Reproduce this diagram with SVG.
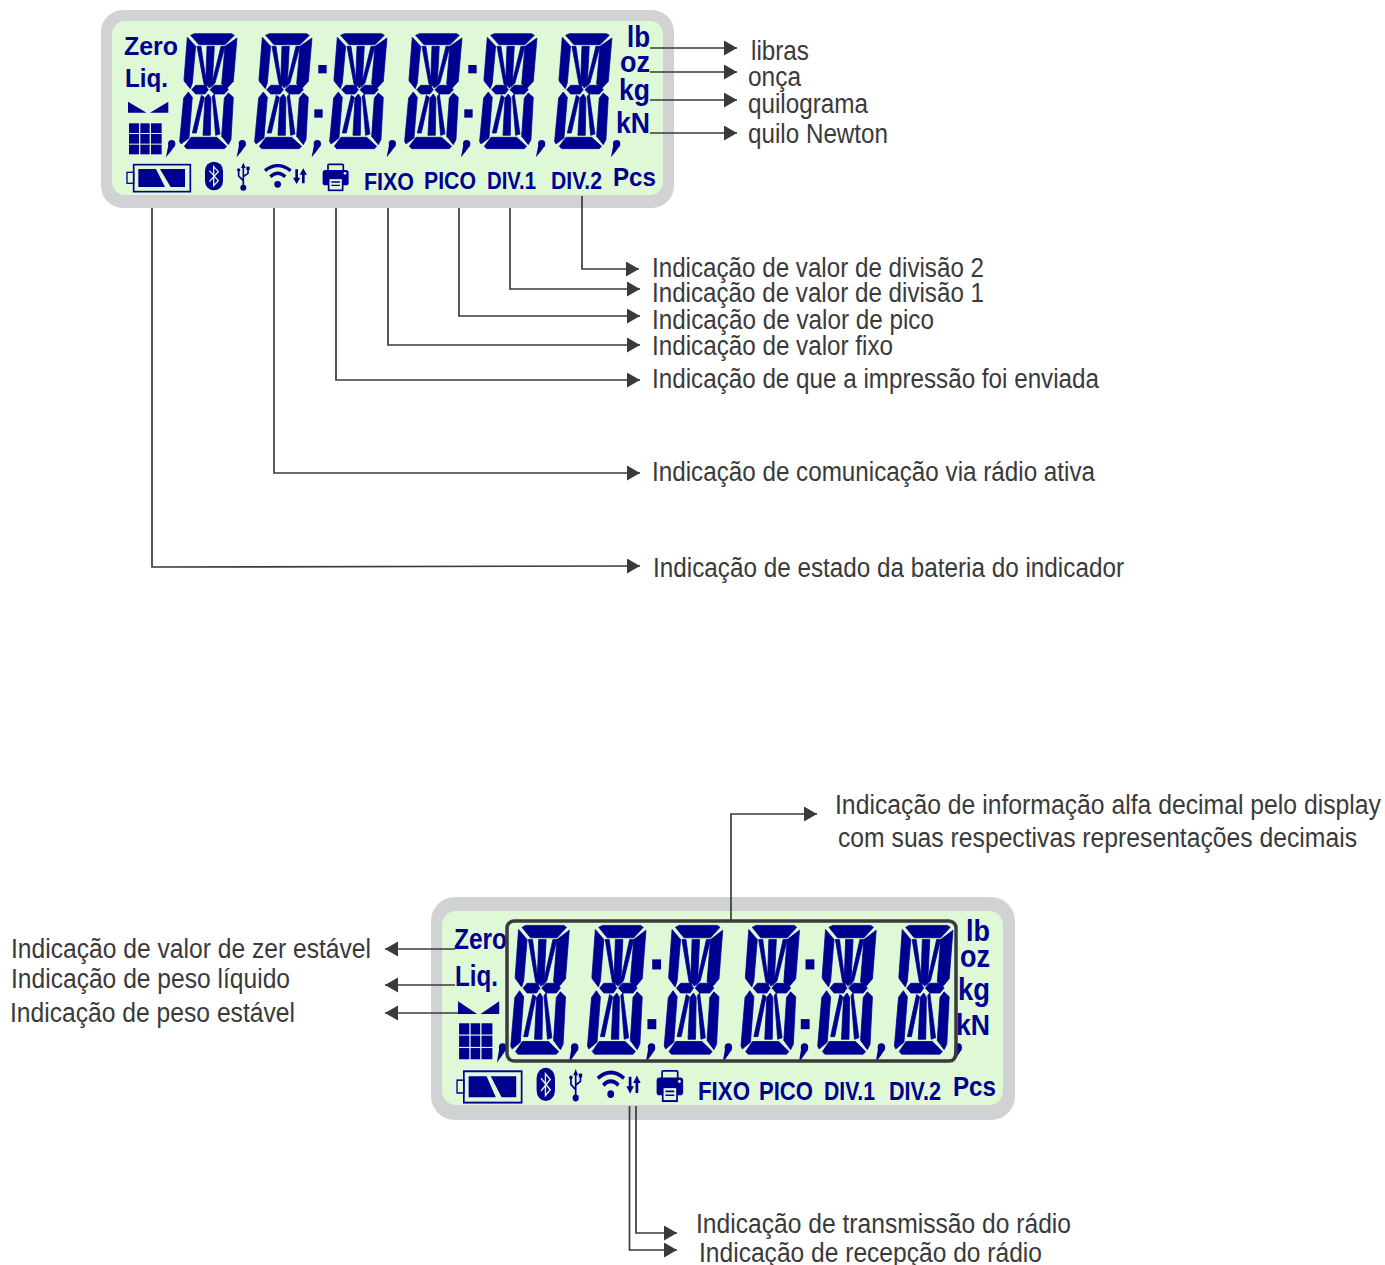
<svg xmlns="http://www.w3.org/2000/svg" xmlns:xlink="http://www.w3.org/1999/xlink" width="1385" height="1265" viewBox="0 0 1385 1265">
<style>
.bez{fill:#d1d2d4}.scr{fill:#dff8d5}
.s{fill:#000090}
.dg{fill:#000090;stroke:#000090;stroke-width:2.2;stroke-linejoin:round}
.b{font-family:"Liberation Sans",Arial,sans-serif;font-weight:700;fill:#000090;font-size:26px}
.t{font-family:"Liberation Sans",Arial,sans-serif;fill:#3a3a3a;font-size:27px}
.c{fill:none;stroke:#3a3a3a;stroke-width:1.7;marker-end:url(#ah)}
</style>
<defs>
<marker id="ah" markerUnits="userSpaceOnUse" markerWidth="14" markerHeight="16" refX="13" refY="7.5" orient="auto"><path d="M0,0L13,7.5L0,15Z" fill="#3a3a3a"/></marker>
<g id="digit" class="dg">
<polygon points="272,76 283,71 395,71 403,76 375,104 297,104"/>
<polygon points="262,82 287,109 277,219 271,236 253,214 252,209"/>
<polygon points="411,84 400,214 380,236 365,222 375,109"/>
<polygon points="275,239 287,226 315,226 325,239 315,252 287,252"/>
<polygon points="330,239 343,226 373,226 385,239 373,252 343,252"/>
<polygon points="265,246 277,262 267,384 243,402 239,394 251,264"/>
<polygon points="385,249 400,262 393,389 385,404 365,379 373,264"/>
<polygon points="253,409 273,382 350,382 380,409 373,416 260,416"/>
<polygon points="321,109 343,109 337,219 328,234 317,219"/>
<polygon points="309,376 315,264 325,252 333,264 331,376"/>
<polygon points="291,109 303,109 321,232 312,222"/>
<polygon points="363,109 375,109 345,219 333,232"/>
<polygon points="277,369 289,369 313,262 304,256"/>
<polygon points="337,259 343,252 360,372 347,376"/>
</g>
<g id="comma" class="s"><circle cx="215" cy="401" r="11"/><path d="M205,406L226,406Q212,426 198,442Z"/></g>
<g id="icons" class="s">
<rect x="101" y="464" width="170" height="81" fill="none" stroke="#000090" stroke-width="5"/>
<rect x="81" y="487" width="20" height="33" fill="none" stroke="#000090" stroke-width="4"/>
<polygon points="115,477 168,477 195,531 115,531"/>
<polygon points="180,477 255,477 255,531 212,531"/>
<rect x="315" y="455" width="54" height="86" rx="27"/>
<path d="M328,482L355,512L341,527L341,470L355,485L328,515" fill="none" stroke="#dff8d5" stroke-width="4"/>
<path d="M430,470V530M430,512L416,498V484M430,500L444,490V478" fill="none" stroke="#000090" stroke-width="5"/>
<polygon points="430,458 437,474 423,474"/><circle cx="430" cy="533" r="9"/><circle cx="416" cy="480" r="5"/><rect x="439" y="470" width="10" height="10"/>
<path d="M495,482Q533,452 572,482M511,500Q533,480 556,500" fill="none" stroke="#000090" stroke-width="10"/>
<circle cx="533" cy="523" r="10"/>
<polygon points="586,478 594,478 594,503 601,503 590,522 579,503 586,503"/>
<polygon points="606,520 614,520 614,494 621,494 610,475 599,494 606,494"/>
<rect x="684" y="463" width="46" height="22" rx="3" fill="none" stroke="#000090" stroke-width="5"/>
<rect x="668" y="480" width="78" height="46" rx="8"/>
<rect x="686" y="505" width="42" height="36" fill="#dff8d5" stroke="#000090" stroke-width="5"/>
<path d="M694,516H720M694,526H720" stroke="#000090" stroke-width="4"/>
<circle cx="735" cy="490" r="4" fill="#dff8d5"/>
</g>
<g id="stab" class="s"><polygon points="84,275 140,308 84,308"/><polygon points="205,275 150,308 205,308"/></g>
<g id="grid" class="s">
<rect x="87" y="340" width="30" height="29"/><rect x="121" y="340" width="28" height="29"/><rect x="153" y="340" width="32" height="29"/>
<rect x="87" y="372" width="30" height="29"/><rect x="121" y="372" width="28" height="29"/><rect x="153" y="372" width="32" height="29"/>
<rect x="87" y="404" width="30" height="29"/><rect x="121" y="404" width="28" height="29"/><rect x="153" y="404" width="32" height="29"/>
</g>
</defs>
<rect width="1385" height="1265" fill="#fff"/>

<g id="display-top">
<rect class="bez" x="101" y="10" width="573" height="198" rx="22"/>
<rect class="scr" x="112" y="21" width="551" height="174" rx="13"/>
<g transform="translate(100,10) scale(.3333)">
<use href="#digit"/><use href="#digit" x="225"/><use href="#digit" x="450"/><use href="#digit" x="675"/><use href="#digit" x="900"/><use href="#digit" x="1125"/>
<use href="#comma"/><use href="#comma" x="212"/><use href="#comma" x="437"/><use href="#comma" x="662"/><use href="#comma" x="885"/><use href="#comma" x="1110"/><use href="#comma" x="1335"/>
<rect class="s" x="655" y="165" width="25" height="25"/><rect class="s" x="643" y="298" width="25" height="25"/>
<rect class="s" x="1105" y="165" width="25" height="25"/><rect class="s" x="1093" y="298" width="25" height="25"/>
<use href="#icons"/><use href="#stab"/><use href="#grid"/>
</g>
<text class="b" x="124" y="55" textLength="54" lengthAdjust="spacingAndGlyphs">Zero</text>
<text class="b" x="125" y="87" textLength="43" lengthAdjust="spacingAndGlyphs">Liq.</text>
<text class="b" x="627" y="47" textLength="23" lengthAdjust="spacingAndGlyphs" style="font-size:29px">lb</text>
<text class="b" x="620" y="72" textLength="30" lengthAdjust="spacingAndGlyphs" style="font-size:30px">oz</text>
<text class="b" x="619" y="100" textLength="31" lengthAdjust="spacingAndGlyphs" style="font-size:29px">kg</text>
<text class="b" x="616" y="133" textLength="34" lengthAdjust="spacingAndGlyphs" style="font-size:29px">kN</text>
<text class="b" x="364" y="190" textLength="50" lengthAdjust="spacingAndGlyphs" style="font-size:24px">FIXO</text>
<text class="b" x="424" y="189" textLength="52" lengthAdjust="spacingAndGlyphs" style="font-size:24px">PICO</text>
<text class="b" x="487" y="189" textLength="49" lengthAdjust="spacingAndGlyphs" style="font-size:24px">DIV.1</text>
<text class="b" x="551" y="189" textLength="51" lengthAdjust="spacingAndGlyphs" style="font-size:24px">DIV.2</text>
<text class="b" x="613" y="186" textLength="43" lengthAdjust="spacingAndGlyphs">Pcs</text>
</g>

<g id="display-bottom">
<rect class="bez" x="431" y="897" width="584" height="223" rx="24"/>
<rect class="scr" x="442" y="911" width="561" height="194" rx="14"/>
<text class="b" x="454" y="949" textLength="53" lengthAdjust="spacingAndGlyphs" style="font-size:29px">Zero</text>
<text class="b" x="455" y="986" textLength="43" lengthAdjust="spacingAndGlyphs" style="font-size:29px">Liq.</text>
<g transform="translate(429.500,898.900) scale(.34,.3733)">
<use href="#digit"/><use href="#digit" x="225.700"/><use href="#digit" x="451.400"/><use href="#digit" x="677.100"/><use href="#digit" x="902.800"/><use href="#digit" x="1128.500"/>
<use href="#comma" y="-3"/><use href="#comma" x="212" y="-3"/><use href="#comma" x="438" y="-3"/><use href="#comma" x="664" y="-3"/><use href="#comma" x="888" y="-3"/><use href="#comma" x="1114" y="-3"/><use href="#comma" x="1340" y="-3"/>
<rect class="s" x="655" y="162" width="26" height="27"/><rect class="s" x="641" y="322" width="26" height="27"/>
<rect class="s" x="1106" y="162" width="26" height="27"/><rect class="s" x="1092" y="322" width="26" height="27"/>
</g>
<g transform="translate(429.500,891.700) scale(.34,.387)">
<use href="#icons"/><use href="#grid"/><use href="#stab" y="8"/>
</g>
<rect x="507" y="921" width="449" height="140" rx="7" fill="none" stroke="#3a3a3a" stroke-width="3.500"/>
<text class="b" x="966" y="941" textLength="24" lengthAdjust="spacingAndGlyphs" style="font-size:30px">lb</text>
<text class="b" x="960" y="967" textLength="30" lengthAdjust="spacingAndGlyphs" style="font-size:31px">oz</text>
<text class="b" x="958" y="1000" textLength="32" lengthAdjust="spacingAndGlyphs" style="font-size:31px">kg</text>
<text class="b" x="956" y="1035" textLength="34" lengthAdjust="spacingAndGlyphs" style="font-size:30px">kN</text>
<text class="b" x="698" y="1100" textLength="52" lengthAdjust="spacingAndGlyphs">FIXO</text>
<text class="b" x="759" y="1100" textLength="54" lengthAdjust="spacingAndGlyphs">PICO</text>
<text class="b" x="824" y="1100" textLength="51" lengthAdjust="spacingAndGlyphs">DIV.1</text>
<text class="b" x="889" y="1100" textLength="52" lengthAdjust="spacingAndGlyphs">DIV.2</text>
<text class="b" x="953" y="1096" textLength="43" lengthAdjust="spacingAndGlyphs" style="font-size:27px">Pcs</text>
</g>

<g id="connectors">
<path class="c" d="M650,48H737"/>
<path class="c" d="M650,72H737"/>
<path class="c" d="M650,100H737"/>
<path class="c" d="M650,133H737"/>
<path class="c" d="M582,196V269H639"/>
<path class="c" d="M510,208V289H640"/>
<path class="c" d="M459,208V316H640"/>
<path class="c" d="M388,208V345H640"/>
<path class="c" d="M336,208V380H640"/>
<path class="c" d="M274,208V473H640"/>
<path class="c" d="M152,208V567L640,566"/>
<path class="c" d="M731,920V814H817"/>
<path class="c" d="M455,949H385"/>
<path class="c" d="M455,985H385"/>
<path class="c" d="M458,1013H385"/>
<path class="c" d="M636,1106V1233H677"/>
<path class="c" d="M629.500,1106V1250H677"/>
</g>

<g id="labels">
<g id="lbl-libras"><text class="t" x="751" y="60" textLength="58" lengthAdjust="spacingAndGlyphs">libras</text></g>
<g id="lbl-onca"><text class="t" x="748" y="86" textLength="53" lengthAdjust="spacingAndGlyphs">onça</text></g>
<g id="lbl-quilograma"><text class="t" x="748" y="113" textLength="120" lengthAdjust="spacingAndGlyphs">quilograma</text></g>
<g id="lbl-newton"><text class="t" x="748" y="143" textLength="140" lengthAdjust="spacingAndGlyphs">quilo Newton</text></g>
<g id="lbl-div2"><text class="t" x="652" y="277" textLength="332" lengthAdjust="spacingAndGlyphs">Indicação de valor de divisão 2</text></g>
<g id="lbl-div1"><text class="t" x="652" y="302" textLength="332" lengthAdjust="spacingAndGlyphs">Indicação de valor de divisão 1</text></g>
<g id="lbl-pico"><text class="t" x="652" y="329" textLength="282" lengthAdjust="spacingAndGlyphs">Indicação de valor de pico</text></g>
<g id="lbl-fixo"><text class="t" x="652" y="355" textLength="241" lengthAdjust="spacingAndGlyphs">Indicação de valor fixo</text></g>
<g id="lbl-print"><text class="t" x="652" y="388" textLength="447" lengthAdjust="spacingAndGlyphs">Indicação de que a impressão foi enviada</text></g>
<g id="lbl-radio"><text class="t" x="652" y="481" textLength="443" lengthAdjust="spacingAndGlyphs">Indicação de comunicação via rádio ativa</text></g>
<g id="lbl-bateria"><text class="t" x="653" y="577" textLength="471" lengthAdjust="spacingAndGlyphs">Indicação de estado da bateria do indicador</text></g>
<g id="lbl-alfa"><text class="t" x="835" y="814" textLength="546" lengthAdjust="spacingAndGlyphs">Indicação de informação alfa decimal pelo display</text>
<text class="t" x="838" y="847" textLength="519" lengthAdjust="spacingAndGlyphs">com suas respectivas representações decimais</text></g>
<g id="lbl-zero"><text class="t" x="11" y="958" textLength="360" lengthAdjust="spacingAndGlyphs">Indicação de valor de zer estável</text></g>
<g id="lbl-liquido"><text class="t" x="11" y="988" textLength="279" lengthAdjust="spacingAndGlyphs">Indicação de peso líquido</text></g>
<g id="lbl-estavel"><text class="t" x="10" y="1022" textLength="285" lengthAdjust="spacingAndGlyphs">Indicação de peso estável</text></g>
<g id="lbl-tx"><text class="t" x="696" y="1233" textLength="375" lengthAdjust="spacingAndGlyphs">Indicação de transmissão do rádio</text></g>
<g id="lbl-rx"><text class="t" x="699" y="1262" textLength="343" lengthAdjust="spacingAndGlyphs">Indicação de recepção do rádio</text></g>
</g>
</svg>
